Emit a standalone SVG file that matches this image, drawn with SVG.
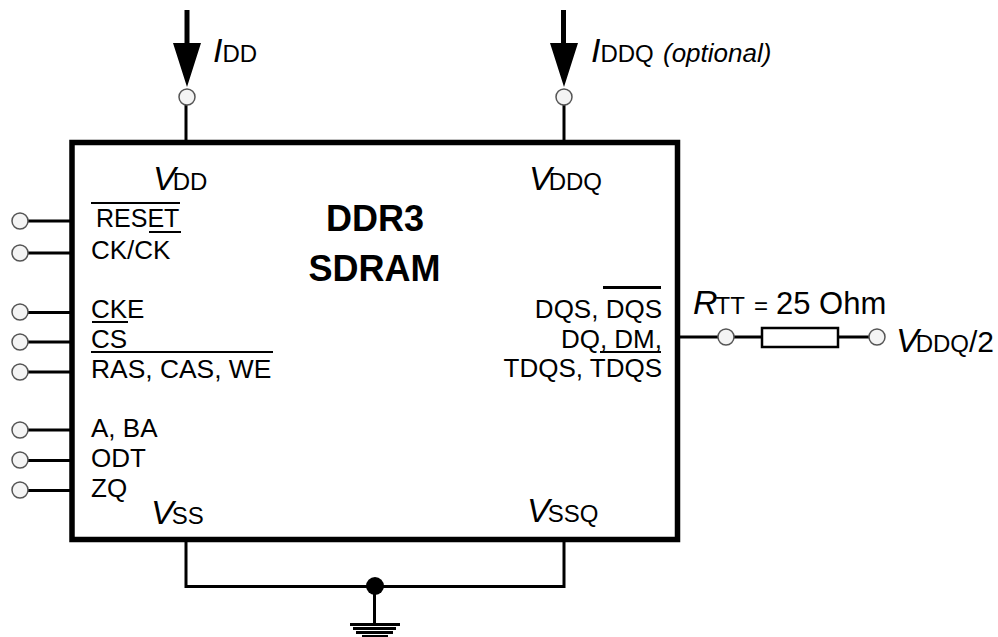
<svg xmlns="http://www.w3.org/2000/svg" width="998" height="637" viewBox="0 0 998 637">
<style>
text{font-family:"Liberation Sans",Arial,sans-serif;fill:#000}
.s{font-size:26px}
.m{font-size:24px}
.t{font-size:34px;font-style:italic}
.b{font-size:36px;font-weight:bold;text-anchor:middle}
.e{text-anchor:end}
.w{stroke:#000;stroke-width:3;fill:none}
.o{stroke:#000;stroke-width:2;fill:none}
.p{fill:#f4f4f4;stroke:#555;stroke-width:1.5}
</style>
<rect width="998" height="637" fill="#fff"/>
<g id="connectors">
<path class="w" d="M186 105V142M564 105V142M28 221H72M28 253H72M28 312.500H72M28 342H72M28 372H72M28 430H72M28 460.500H72M28 490.500H72M677 337H718M734 337H762M838 337H869"/>
<path class="w" d="M186 540V586.500H564V540M374.500 586V625"/>
<path d="M187 10V44" stroke="#000" stroke-width="5" fill="none"/>
<path d="M563.500 10V44" stroke="#000" stroke-width="5" fill="none"/>
<path d="M173 43H201L187 87ZM550 43H578L564 87Z" fill="#000"/>
<circle cx="375" cy="586" r="9" fill="#000"/>
<path d="M350 624.500H400" stroke="#000" stroke-width="3"/>
<path d="M353 628.500H396" stroke="#000" stroke-width="3"/>
<path d="M356 632.500H393" stroke="#000" stroke-width="3"/>
<path d="M362 636H388" stroke="#000" stroke-width="2"/>
</g>
<g id="ddr3-sdram">
<rect x="72" y="142.500" width="605.500" height="397" fill="#fff" stroke="#000" stroke-width="5.500"/>
<text class="b" x="375" y="230.500">DDR3</text>
<text class="b" x="374.500" y="281">SDRAM</text>
<text x="153" y="190" class="m"><tspan class="t">V</tspan><tspan dx="-3">DD</tspan></text>
<text x="529" y="190" class="m"><tspan class="t">V</tspan><tspan dx="-3">DDQ</tspan></text>
<text x="151" y="524" class="m"><tspan class="t">V</tspan><tspan dx="-2">SS</tspan></text>
<text x="527" y="522" class="m"><tspan class="t">V</tspan><tspan dx="-2">SSQ</tspan></text>
<text x="96" y="227" font-size="25">RESET</text>
<text x="91" y="259" class="s">CK/CK</text>
<text x="91" y="318" class="s">CKE</text>
<text x="91" y="348" class="s">CS</text>
<text x="91" y="378" font-size="26.400">RAS, CAS, WE</text>
<text x="91" y="437" class="s">A, BA</text>
<text x="91" y="467" class="s">ODT</text>
<text x="91" y="497" class="s">ZQ</text>
<text x="662" y="318" class="s e">DQS, DQS</text>
<text x="662" y="348" class="s e">DQ, DM,</text>
<text x="662" y="377" class="s e">TDQS, TDQS</text>
<path class="o" d="M91 203H180M149 232H181M92 322H128M91 352H273M600 352H661"/>
<path d="M603 287.500H661" stroke="#000" stroke-width="3"/>
</g>
<g id="pin-reset"><circle class="p" cx="20" cy="221" r="8"/></g>
<g id="pin-ck"><circle class="p" cx="20" cy="253" r="8"/></g>
<g id="pin-cke"><circle class="p" cx="20" cy="312" r="8"/></g>
<g id="pin-cs"><circle class="p" cx="20" cy="342" r="8"/></g>
<g id="pin-ras"><circle class="p" cx="20" cy="372" r="8"/></g>
<g id="pin-a"><circle class="p" cx="20" cy="430" r="8"/></g>
<g id="pin-odt"><circle class="p" cx="20" cy="460" r="8"/></g>
<g id="pin-zq"><circle class="p" cx="20" cy="490" r="8"/></g>
<g id="pin-vdd"><circle class="p" cx="187" cy="97" r="8"/></g>
<g id="pin-vddq"><circle class="p" cx="564" cy="97" r="8"/></g>
<g id="pin-dq"><circle class="p" cx="726" cy="337" r="8"/></g>
<g id="pin-vtt"><circle class="p" cx="877" cy="337" r="8"/></g>
<g id="resistor"><rect x="762" y="328" width="76" height="19" fill="#fff" stroke="#000" stroke-width="2.500"/></g>
<g id="labels">
<text x="213" y="62" class="m"><tspan class="t">I</tspan>DD</text>
<text x="591" y="62" class="m"><tspan class="t">I</tspan>DDQ <tspan x="663" font-size="26" font-style="italic">(optional)</tspan></text>
<text x="693" y="314" class="m"><tspan class="t">R</tspan><tspan dx="-2">TT</tspan><tspan x="754">=</tspan> <tspan x="776" font-size="31">25 Ohm</tspan></text>
<text x="896" y="352" class="m"><tspan class="t">V</tspan><tspan dx="-3">DDQ</tspan><tspan font-size="30">/2</tspan></text>
</g>
</svg>
